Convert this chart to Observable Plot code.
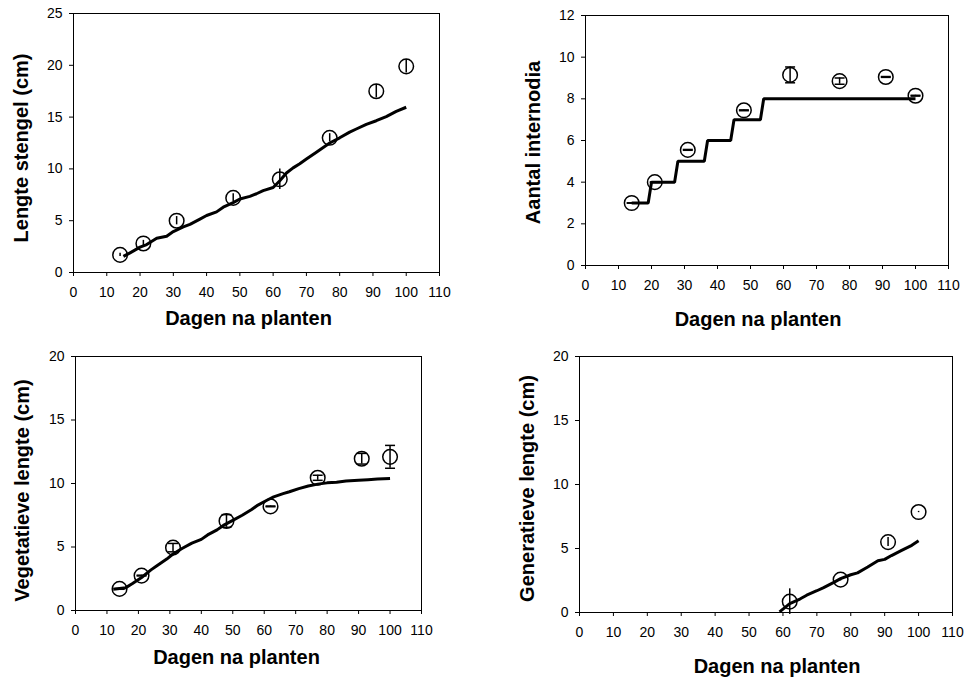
<!DOCTYPE html>
<html>
<head>
<meta charset="utf-8">
<script src="https://cdn.jsdelivr.net/npm/d3@7"></script>
<script src="https://cdn.jsdelivr.net/npm/@observablehq/plot@0.6"></script>
<style>
  body { margin: 0; background: #fff; }
  #fig { position: relative; width: 964px; height: 681px; font-family: "Liberation Sans", Arial, sans-serif; }
  #fig svg { position: absolute; }
</style>
</head>
<body>
<div id="fig"></div>
<script>
// Sampling days (dagen na planten)
const days = [14, 21, 31, 48, 62, 77, 91, 100];
const xTicks = [0, 10, 20, 30, 40, 50, 60, 70, 80, 90, 100, 110];
const xTitle = "Dagen na planten";

// Lengte stengel: measured mean, error, and simulated course
const stengel = [1.7, 2.8, 5.0, 7.2, 9.0, 13.0, 17.5, 19.9];
const stengelErr = [0.15, 0.3, 0.4, 0.4, 1.0, 0.4, 0.65, 0.65];
const stengelSimDays = [15, 17, 20, 22, 25, 28, 30, 33, 35, 38, 40, 43, 45, 48, 50, 53, 55, 57, 60, 62, 64, 66, 68, 70, 73, 77, 80, 83, 85, 88, 91, 94, 97, 100];
const stengelSim = [1.55, 1.9, 2.45, 2.7, 3.3, 3.5, 3.95, 4.4, 4.65, 5.15, 5.5, 5.85, 6.3, 6.75, 7.1, 7.35, 7.6, 7.9, 8.2, 8.85, 9.6, 10.1, 10.5, 10.95, 11.6, 12.5, 13.0, 13.55, 13.85, 14.3, 14.65, 15.05, 15.55, 15.95];

// Aantal internodia
const internodia = [3.0, 4.0, 5.55, 7.45, 9.15, 8.85, 9.05, 8.15];
const internodiaErr = [0.01, 0.01, 0.02, 0.02, 0.38, 0.15, 0.02, 0.02];
const internodiaSimDays = [14, 19, 20, 27, 28, 36, 37, 44, 45, 53, 54, 100];
const internodiaSim = [3, 3, 4, 4, 5, 5, 6, 6, 7, 7, 8, 8];

// Vegetatieve lengte
const vegetatief = [1.7, 2.75, 4.95, 7.05, 8.2, 10.45, 11.95, 12.1];
const vegetatiefErr = [0.03, 0.03, 0.33, 0.5, 0.03, 0.2, 0.42, 0.9];
const vegetatiefSimDays = [12, 16, 18, 21, 24, 26, 29, 31, 34, 37, 40, 42, 45, 47, 50, 53, 56, 58, 61, 63, 66, 68, 71, 74, 77, 80, 83, 86, 90, 93, 96, 100];
const vegetatiefSim = [1.68, 1.8, 2.1, 2.6, 3.2, 3.55, 4.05, 4.45, 4.9, 5.3, 5.6, 5.95, 6.35, 6.7, 7.1, 7.5, 7.95, 8.3, 8.7, 8.95, 9.2, 9.35, 9.6, 9.8, 9.95, 10.05, 10.1, 10.2, 10.25, 10.3, 10.35, 10.4];

// Generatieve lengte (only after flowering starts)
const generatiefDays = [62, 77, 91, 100];
const generatief = [0.85, 2.57, 5.5, 7.85];
const generatiefErr = [1.0, 0.1, 0.35, 0.05];
const generatiefSimDays = [59, 62, 65, 67, 70, 72, 75, 77, 80, 82, 85, 88, 90, 92, 95, 98, 100];
const generatiefSim = [0.05, 0.7, 1.05, 1.35, 1.7, 1.95, 2.35, 2.65, 2.95, 3.1, 3.55, 4.05, 4.15, 4.45, 4.85, 5.25, 5.6];

// Horizontal cap for error bars, drawn as a dot symbol
const cap = {
  draw(ctx, size) {
    const w = Math.sqrt(size / Math.PI);
    ctx.moveTo(-w, 0);
    ctx.lineTo(w, 0);
  }
};

const fig = document.getElementById("fig");

function panel(cfg) {
  const obs = cfg.days.map((d, i) => ({day: d, v: cfg.obs[i], e: cfg.err[i]}));
  const sim = cfg.simDays.map((d, i) => ({day: d, v: cfg.sim[i]}));
  const marks = [
    Plot.frame({stroke: "black", strokeWidth: 1}),
    Plot.axisX({ticks: xTicks, tickSize: 4, tickPadding: 11, label: null, tickFormat: d => String(d)}),
    Plot.axisY({ticks: cfg.yTicks, tickSize: 4, tickPadding: 7, label: null, tickFormat: d => String(d)}),
    Plot.line(sim, {x: "day", y: "v", stroke: "black", strokeWidth: 3, strokeLinejoin: cfg.join, strokeLinecap: "butt"}),
    Plot.dot(obs, {x: "day", y: "v", r: 7.3, stroke: "black", strokeWidth: 1.5, fill: "none"}),
    Plot.ruleX(obs, {x: "day", y1: d => d.v - d.e, y2: d => d.v + d.e, stroke: "black", strokeWidth: 1.5})
  ];
  if (cfg.caps) {
    marks.push(
      Plot.dot(obs, {x: "day", y: d => d.v + d.e, symbol: cap, r: 5, fill: "none", stroke: "black", strokeWidth: 1.5}),
      Plot.dot(obs, {x: "day", y: d => d.v - d.e, symbol: cap, r: 5, fill: "none", stroke: "black", strokeWidth: 1.5})
    );
  }
  marks.push(
    Plot.text([cfg.yTitle], {text: d => d, frameAnchor: "left", rotate: -90, dx: cfg.yTitleDx, dy: cfg.yTitleDy, textAnchor: "middle", lineAnchor: "middle", fontWeight: "bold", fontSize: 20, fill: "black"}),
    Plot.text([xTitle], {text: d => d, frameAnchor: "bottom", dx: cfg.xTitleDx, dy: cfg.xTitleDy, textAnchor: "middle", lineAnchor: "middle", fontWeight: "bold", fontSize: 20, fill: "black"})
  );
  const svg = Plot.plot({
    width: cfg.width,
    height: cfg.height,
    marginLeft: cfg.margin[3],
    marginRight: cfg.margin[1],
    marginTop: cfg.margin[0],
    marginBottom: cfg.margin[2],
    x: {domain: [0, 110], label: null},
    y: {domain: cfg.yDomain, label: null},
    style: {fontFamily: "'Liberation Sans', Arial, sans-serif", fontSize: "14px", color: "black", background: "transparent", overflow: "visible"},
    marks
  });
  svg.style.left = cfg.left + "px";
  svg.style.top = cfg.top + "px";
  fig.appendChild(svg);
}

panel({
  left: 0, top: 0, width: 460, height: 340, margin: [13, 21, 68, 73],
  yDomain: [0, 25], yTicks: [0, 5, 10, 15, 20, 25],
  days, obs: stengel, err: stengelErr, simDays: stengelSimDays, sim: stengelSim,
  caps: false, join: "round",
  yTitle: "Lengte stengel (cm)", yTitleDx: -52, yTitleDy: 5, xTitleDx: -8, xTitleDy: 46
});

panel({
  left: 480, top: 0, width: 484, height: 340, margin: [15, 16, 75, 105],
  yDomain: [0, 12], yTicks: [0, 2, 4, 6, 8, 10, 12],
  days, obs: internodia, err: internodiaErr, simDays: internodiaSimDays, sim: internodiaSim,
  caps: true, join: "miter",
  yTitle: "Aantal internodia", yTitleDx: -52, yTitleDy: 2, xTitleDx: -9, xTitleDy: 54
});

panel({
  left: 0, top: 340, width: 460, height: 341, margin: [16, 39, 71, 75],
  yDomain: [0, 20], yTicks: [0, 5, 10, 15, 20],
  days, obs: vegetatief, err: vegetatiefErr, simDays: vegetatiefSimDays, sim: vegetatiefSim,
  caps: true, join: "round",
  yTitle: "Vegetatieve lengte (cm)", yTitleDx: -53, yTitleDy: 7, xTitleDx: -12, xTitleDy: 47
});

panel({
  left: 480, top: 340, width: 484, height: 341, margin: [16, 12, 69, 99],
  yDomain: [0, 20], yTicks: [0, 5, 10, 15, 20],
  days: generatiefDays, obs: generatief, err: generatiefErr, simDays: generatiefSimDays, sim: generatiefSim,
  caps: false, join: "round",
  yTitle: "Generatieve lengte (cm)", yTitleDx: -52, yTitleDy: 4, xTitleDx: 11, xTitleDy: 54
});
</script>
</body>
</html>
